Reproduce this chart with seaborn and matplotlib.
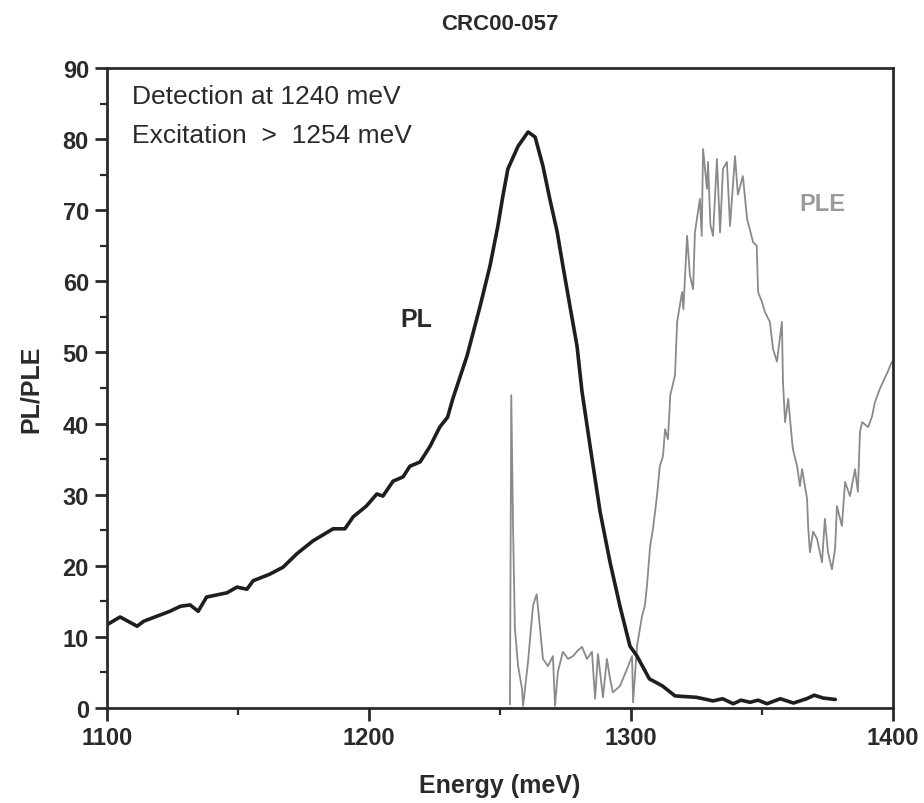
import numpy as np
import pandas as pd
import matplotlib
matplotlib.use("Agg")
import matplotlib.pyplot as plt
import seaborn as sns
from matplotlib.ticker import MultipleLocator

# ---- data ----
pl_energy = [1100.4, 1105, 1111.5, 1114, 1124, 1128, 1131.7, 1134.8, 1138, 1145.8,
             1149.6, 1153.4, 1155.8, 1162, 1167.2, 1172.5, 1178.6, 1186.3, 1190.8, 1194,
             1199, 1203, 1205.3, 1209.2, 1213, 1215.6, 1219.5, 1223.3, 1227, 1230,
             1232, 1237.4, 1242.4, 1246.2, 1249.2, 1251.1, 1253, 1256.9, 1260.7, 1263.4,
             1266.4, 1269, 1271.8, 1274, 1276.7, 1279.4, 1281.3, 1284.4, 1288.2, 1292,
             1295.8, 1299.6, 1302.3, 1307, 1312, 1316.8, 1325, 1331.3, 1335, 1339,
             1342, 1345.4, 1348.5, 1351.9, 1357, 1362, 1367, 1370, 1373.3, 1378]
pl_value = [11.8, 12.8, 11.5, 12.2, 13.6, 14.3, 14.5, 13.6, 15.6, 16.2,
            17.0, 16.7, 17.9, 18.8, 19.8, 21.7, 23.5, 25.2, 25.2, 26.9,
            28.4, 30.1, 29.8, 31.9, 32.5, 34.0, 34.6, 36.8, 39.5, 40.9,
            43.5, 49.5, 56.5, 62.2, 67.8, 72.0, 75.8, 79.0, 81.0, 80.3,
            76.2, 71.6, 67.0, 62.2, 56.5, 50.9, 44.5, 36.8, 27.6, 20.5,
            14.3, 8.7, 7.3, 4.1, 3.1, 1.7, 1.5, 1.0, 1.3, 0.6,
            1.1, 0.8, 1.1, 0.6, 1.3, 0.7, 1.3, 1.8, 1.4, 1.2]

ple_energy = [1253.8, 1254.3, 1255.0, 1255.7, 1256.9, 1258.4, 1258.8, 1260.7, 1262.6, 1264,
              1265.3, 1266.4, 1268.3, 1270.2, 1271, 1272.1, 1274, 1276, 1277.9, 1279.5,
              1281.3, 1283.2, 1285.1, 1286.3, 1287.4, 1289.3, 1290.8, 1292, 1293.1, 1295.8,
              1298.5, 1300.4, 1300.8, 1302.3, 1304.2, 1305.3, 1306.1, 1307.3, 1308.4, 1309.9,
              1311, 1312.2, 1313, 1314.1, 1315, 1316.8, 1317.6, 1319.5, 1320, 1321.4,
              1322.5, 1323.7, 1324.4, 1326.3, 1327, 1327.5, 1329, 1329.4, 1330.3, 1331.3,
              1332.8, 1334, 1335.1, 1336.6, 1337.8, 1339, 1339.7, 1340.8, 1342.7, 1344.3,
              1346.6, 1348, 1348.5, 1350, 1351.1, 1353, 1354.2, 1355.7, 1357.6, 1358,
              1358.8, 1360, 1361.5, 1361.8, 1363.4, 1364.5, 1365.3, 1367.2, 1367.6, 1368.3,
              1369.5, 1371, 1372.9, 1374, 1375.2, 1376.7, 1377.9, 1378.6, 1380.5, 1381.7,
              1383.6, 1385.5, 1386.6, 1387.4, 1388.2, 1390.5, 1392, 1393.1, 1395, 1398,
              1399.6]
ple_value = [0.5, 44.0, 25.0, 11.1, 5.9, 2.7, 0.3, 6.5, 14.4, 16.0,
             11.1, 6.9, 5.9, 7.3, 0.3, 5.1, 7.9, 6.9, 7.3, 8.0,
             8.6, 6.9, 7.9, 1.3, 7.6, 1.5, 6.9, 4.1, 2.2, 3.1,
             5.5, 7.3, 0.8, 8.7, 12.9, 14.4, 17.2, 22.8, 25.2, 29.8,
             34.0, 35.4, 39.2, 37.8, 44.0, 46.8, 54.3, 58.5, 56.1, 66.4,
             60.8, 58.9, 66.9, 71.6, 66.4, 78.6, 73.0, 76.8, 68.0, 66.4,
             77.2, 66.9, 75.8, 76.8, 67.8, 74.0, 77.6, 72.2, 74.8, 68.8,
             65.5, 65.0, 58.5, 57.1, 55.7, 54.3, 50.5, 48.7, 54.3, 45.9,
             40.2, 43.5, 37.4, 36.4, 34.0, 31.2, 33.6, 29.4, 25.6, 21.9,
             24.8, 23.8, 20.5, 26.6, 21.9, 19.5, 22.4, 28.4, 25.6, 31.8,
             29.8, 33.6, 30.4, 38.8, 40.2, 39.5, 41.0, 43.0, 44.9, 47.3,
             48.7]

x_ticks = [1100, 1200, 1300, 1400]
y_ticks = [0, 10, 20, 30, 40, 50, 60, 70, 80, 90]

title_text = "CRC00-057"
annot_lines = ["Detection at 1240 meV", "Excitation  >  1254 meV"]

# ---- plotting ----
sns.set_theme(style="white")
plt.rcParams['font.family'] = ['Liberation Sans', 'DejaVu Sans']

fig = plt.figure(figsize=(9.24, 8.04), dpi=100)
ax = fig.add_axes([107/924, 1-709/804, (893-107)/924, (709-69)/804])

pl_df = pd.DataFrame({"Energy": pl_energy, "Value": pl_value})
ple_df = pd.DataFrame({"Energy": ple_energy, "Value": ple_value})

sns.lineplot(data=ple_df, x="Energy", y="Value", ax=ax, color="#8a8a8a",
             linewidth=1.3, estimator=None, sort=False)
sns.lineplot(data=pl_df, x="Energy", y="Value", ax=ax, color="#1e1e1e",
             linewidth=2.6, estimator=None, sort=False)

ax.set_xlim(1100, 1400)
ax.set_ylim(0, 90)
ax.set_xticks(x_ticks)
ax.set_yticks(y_ticks)
ax.xaxis.set_minor_locator(MultipleLocator(50))
ax.yaxis.set_minor_locator(MultipleLocator(5))

for s in ax.spines.values():
    s.set_visible(True)
    s.set_linewidth(2.0)
    s.set_color("#2a2a2a")

ax.tick_params(axis="both", which="major", direction="out", length=9, width=2.0,
               color="#2a2a2a", labelsize=17, pad=4, bottom=True, left=True)
ax.tick_params(axis="both", which="minor", direction="out", length=5, width=1.6,
               color="#2a2a2a", bottom=True, left=True)
for lab in ax.get_xticklabels() + ax.get_yticklabels():
    lab.set_fontweight("bold")
    lab.set_color("#2a2a2a")

ax.set_xlabel("Energy (meV)", fontsize=18, fontweight="bold", color="#2a2a2a", labelpad=17)
ax.set_ylabel("PL/PLE", fontsize=18, fontweight="bold", color="#2a2a2a", labelpad=14)

fig.text(0.5 * (107 + 893) / 924, 1 - 25/804, title_text, ha="center", va="center",
         fontsize=16, fontweight="bold", color="#2a2a2a")

ax.text(1109.5, 86.0, annot_lines[0], fontsize=19, color="#2a2a2a", va="center", ha="left")
ax.text(1109.5, 80.6, annot_lines[1], fontsize=19, color="#2a2a2a", va="center", ha="left")

ax.text(1218, 54.7, "PL", fontsize=18, fontweight="bold", color="#2a2a2a", ha="center", va="center")
ax.text(1373, 70.9, "PLE", fontsize=17, fontweight="bold", color="#9a9a9a", ha="center", va="center")

fig.savefig("out.png", dpi=100)
